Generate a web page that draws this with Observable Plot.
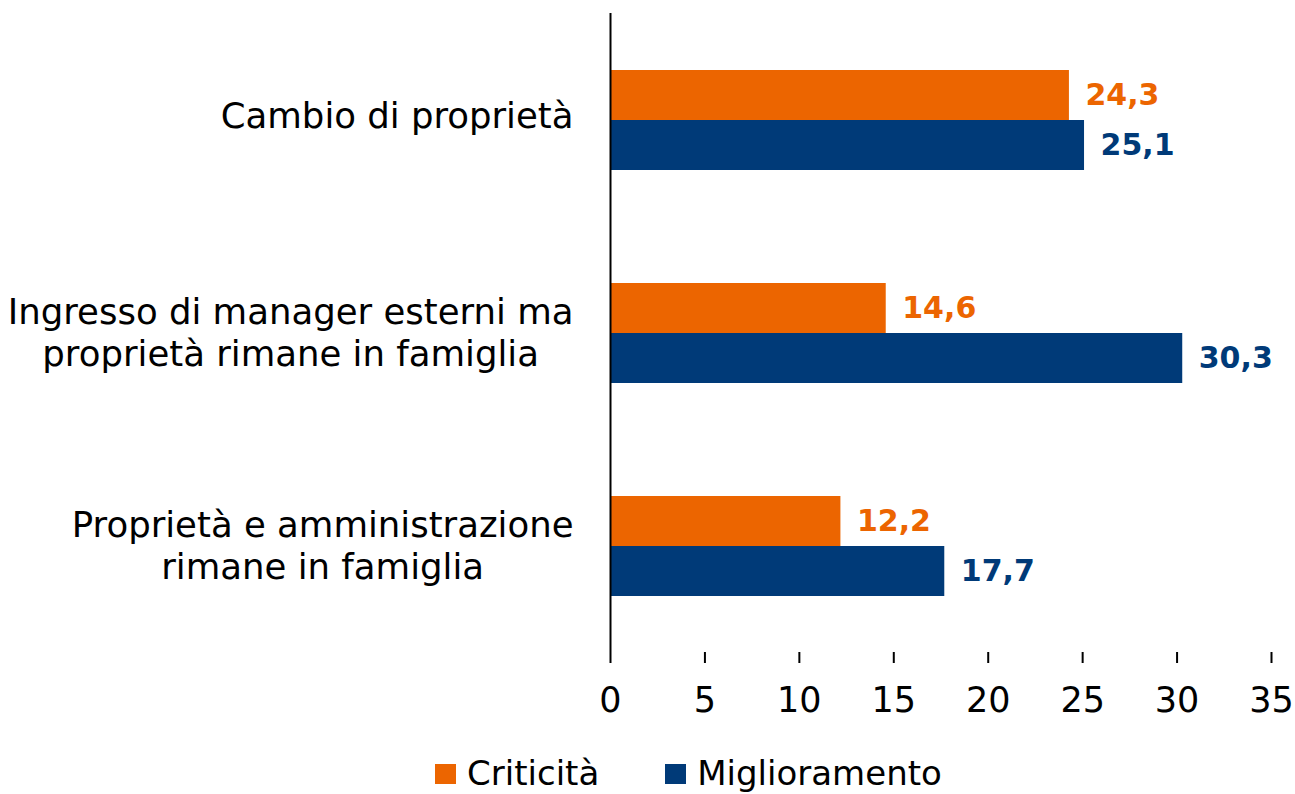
<!DOCTYPE html>
<html><head><meta charset="utf-8">
<script src="https://cdn.jsdelivr.net/npm/d3@7"></script>
<script src="https://cdn.jsdelivr.net/npm/@observablehq/plot@0.6"></script>
<style>
body{margin:0;background:#fff;font-family:"DejaVu Sans",sans-serif;}
#legend{display:flex;align-items:center;margin-left:435px;margin-top:12px;height:42px;font-size:34px;color:#000;white-space:nowrap;}
#legend .sw{width:21px;height:20px;margin-right:11px;margin-top:2px;}
#legend .item{display:flex;align-items:center;margin-right:66px;}
</style>
</head><body><div id="chart"></div><div id="legend"></div>
<script>
const categories = [
  "Cambio di proprietà",
  "Ingresso di manager esterni ma\nproprietà rimane in famiglia",
  "Proprietà e amministrazione\nrimane in famiglia"
];
const series = ["Criticità", "Miglioramento"];
const criticita = [24.3, 14.6, 12.2];
const miglioramento = [25.1, 30.3, 17.7];
const colors = ["#EC6500", "#003A78"];
const xTicks = [0, 5, 10, 15, 20, 25, 30, 35];

const FONT = '"DejaVu Sans", sans-serif';
const data = categories.flatMap((c, i) => [
  {cat: c, series: series[0], value: criticita[i]},
  {cat: c, series: series[1], value: miglioramento[i]}
]);
const fmt = v => v.toFixed(1).replace(".", ",");

const labelSize = 35.5;
const ctx = document.createElement("canvas").getContext("2d");
ctx.font = `${labelSize}px ${FONT}`;
const blockWidth = s => Math.max(...s.split("\n").map(l => ctx.measureText(l).width));
const gap = 37;

const labelMarks = categories.map(c => Plot.text([c], {
  fy: d => d, text: d => d, frameAnchor: "left",
  textAnchor: "middle", lineAnchor: "middle",
  dx: -gap - blockWidth(c) / 2, dy: c.includes("\n") ? -1 : -5,
  fontSize: labelSize, lineHeight: 1.18, fill: "#000"
}));

const chart = Plot.plot({
  width: 1295, height: 740,
  marginTop: 12, marginBottom: 87, marginLeft: 610, marginRight: 24,
  style: {fontFamily: FONT, background: "#fff"},
  x: {domain: [0, 35], axis: null},
  fy: {domain: categories, padding: 0, axis: null},
  y: {domain: series, paddingInner: 0, paddingOuter: 1.115, axis: null},
  color: {domain: series, range: colors},
  marks: [
    Plot.barX(data, {fy: "cat", y: "series", x: "value", fill: "series"}),
    Plot.text(data, {fy: "cat", y: "series", x: "value", text: d => fmt(d.value),
      fill: "series", textAnchor: "start", dx: 16, fontWeight: "bold", fontSize: 30}),
    Plot.ruleX([0], {stroke: "#000", strokeWidth: 2}),
    Plot.axisX({ticks: xTicks, tickFormat: d => String(d), tickSize: 11, tickPadding: 24,
      fontSize: 35, stroke: "#000", strokeWidth: 2, color: "#000", line: true, label: null}),
    ...labelMarks
  ]
});
document.getElementById("chart").appendChild(chart);

const legend = document.getElementById("legend");
series.forEach((s, i) => {
  const item = document.createElement("div");
  item.className = "item";
  const sw = document.createElement("div");
  sw.className = "sw"; sw.style.background = colors[i];
  const t = document.createElement("span"); t.textContent = s;
  item.appendChild(sw); item.appendChild(t);
  legend.appendChild(item);
});
</script>
</body></html>
